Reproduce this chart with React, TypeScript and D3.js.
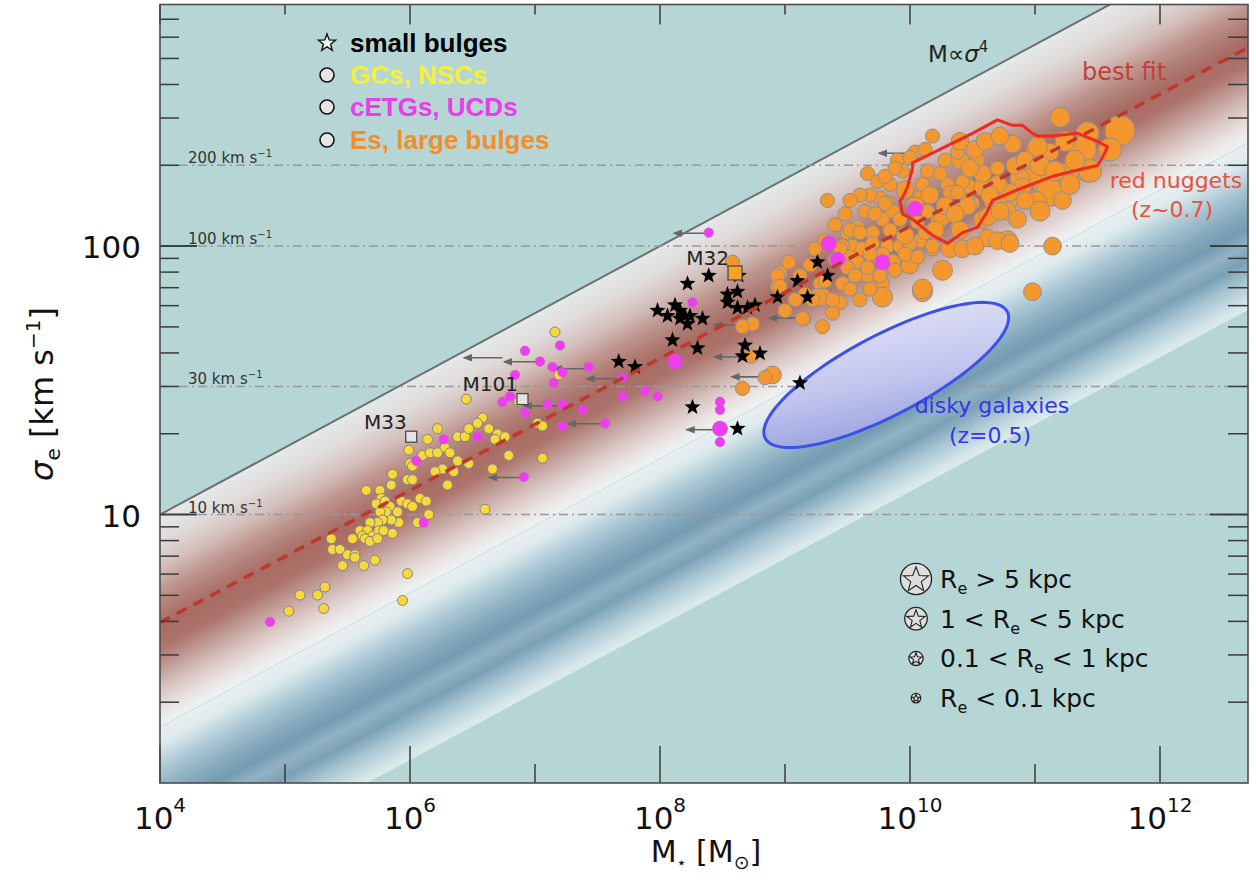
import React from 'react';
import * as d3 from 'd3';

// every point: [log10 M*/Msun, log10 sigma_e/(km/s)] (+ Re in kpc where the marker size shows it)
const gcsNscs = [
  [7.16, 1.68], [7.19, 1.52], [6.45, 1.43], [6.58, 1.36], [6.22, 1.32], [6.14, 1.28], [5.99, 1.24], [6.00, 1.19], [6.02, 1.18], [6.10, 1.22],
  [6.16, 1.23], [6.22, 1.23], [6.28, 1.25], [6.32, 1.23], [6.38, 1.29], [6.44, 1.29], [6.47, 1.32], [6.54, 1.34], [6.63, 1.32], [6.70, 1.30],
  [6.76, 1.29], [6.68, 1.28], [6.79, 1.22], [6.38, 1.20], [6.47, 1.19], [6.35, 1.16], [6.26, 1.17], [6.20, 1.16], [6.30, 1.11], [6.66, 1.17],
  [7.06, 1.21], [7.02, 1.34], [7.06, 1.33], [6.87, 1.42], [5.86, 1.15], [5.85, 1.11], [5.98, 1.13], [6.02, 1.13], [5.65, 1.09], [5.76, 1.09],
  [5.77, 1.06], [5.73, 1.04], [5.80, 1.05], [5.84, 1.03], [5.81, 1.01], [5.76, 1.01], [5.90, 1.01], [5.93, 1.05], [5.98, 1.04], [6.02, 1.03],
  [6.08, 1.06], [6.13, 1.05], [6.15, 1.00], [6.06, 0.97], [5.91, 0.97], [5.85, 0.98], [5.78, 0.98], [5.74, 0.97], [5.68, 0.97], [5.60, 0.94],
  [5.66, 0.94], [5.62, 0.92], [5.70, 0.92], [5.75, 0.94], [5.79, 0.94], [5.86, 0.93], [5.54, 0.91], [5.64, 0.91], [5.68, 0.90], [5.74, 0.91],
  [5.37, 0.91], [5.38, 0.87], [5.44, 0.87], [5.50, 0.85], [5.56, 0.85], [5.56, 0.84], [5.46, 0.81], [5.63, 0.81], [5.72, 0.83], [5.98, 0.78],
  [6.60, 1.02], [5.32, 0.73], [5.26, 0.70], [5.12, 0.70], [5.03, 0.64], [5.31, 0.65], [5.94, 0.68],
];

const cetgsUcds = [
  [7.20, 1.63, 0.03], [6.92, 1.61, 0.03], [7.04, 1.57, 0.03], [7.14, 1.55, 0.03], [7.22, 1.53, 0.03], [7.15, 1.49, 0.03], [6.84, 1.52, 0.03],
  [6.80, 1.44, 0.03], [6.74, 1.42, 0.03], [6.92, 1.38, 0.03], [7.10, 1.41, 0.03], [7.22, 1.41, 0.03], [7.22, 1.33, 0.03], [6.54, 1.29, 0.03],
  [6.27, 1.28, 0.03], [6.05, 1.20, 0.03], [6.91, 1.14, 0.03], [6.11, 0.97, 0.03], [4.88, 0.60, 0.03], [8.39, 2.05, 0.03], [8.26, 1.79, 0.03],
  [8.12, 1.57, 0.7], [7.43, 1.55, 0.03], [7.70, 1.51, 0.03], [7.70, 1.44, 0.03], [7.88, 1.46, 0.03], [7.98, 1.44, 0.03], [7.38, 1.39, 0.03],
  [7.56, 1.34, 0.03], [8.48, 1.42, 0.03], [8.48, 1.39, 0.03], [8.48, 1.32, 0.7], [8.48, 1.27, 0.03], [9.35, 2.01, 0.7], [9.42, 1.95, 0.7],
  [9.78, 1.94, 0.7], [10.04, 2.14, 0.7],
];

const smallBulges = [
  [8.39, 1.89], [8.63, 1.89], [8.22, 1.86], [8.54, 1.82], [8.62, 1.83], [8.54, 1.79], [8.62, 1.77], [8.70, 1.77], [8.76, 1.78], [7.98, 1.76],
  [8.06, 1.74], [8.12, 1.78], [8.16, 1.76], [8.20, 1.74], [8.24, 1.74], [8.22, 1.71], [8.34, 1.73], [8.10, 1.65], [8.30, 1.62], [8.68, 1.63],
  [8.80, 1.60], [8.66, 1.59], [7.67, 1.57], [7.80, 1.55], [8.26, 1.40], [8.62, 1.32], [8.94, 1.81], [9.10, 1.87], [9.12, 1.49], [9.26, 1.94],
  [9.34, 1.89], [9.18, 1.81], [8.16, 1.73],
];

const esLargeBulges = [
  [10.18, 2.41, 0.5], [10.04, 2.35, 0.5], [9.90, 2.32, 0.5], [9.94, 2.28, 0.5], [9.66, 2.27, 0.5], [9.74, 2.24, 0.5], [9.34, 2.17, 0.5],
  [9.76, 2.18, 0.5], [9.82, 2.16, 0.5], [9.64, 2.13, 0.5], [9.86, 2.13, 0.5], [9.78, 2.10, 0.5], [9.92, 2.10, 0.5], [9.58, 2.07, 0.5],
  [9.50, 2.05, 0.5], [9.70, 2.05, 0.5], [9.54, 2.00, 0.5], [9.62, 1.99, 0.5], [9.70, 2.01, 0.5], [9.82, 2.00, 0.5], [9.92, 2.00, 0.5],
  [9.46, 2.00, 0.5], [9.52, 1.96, 0.5], [9.58, 1.94, 0.5], [9.66, 1.89, 0.5], [9.86, 1.94, 1], [9.76, 1.95, 0.5], [9.03, 1.94, 0.5],
  [8.96, 1.90, 0.5], [8.94, 1.85, 0.5], [9.28, 1.86, 0.5], [9.46, 1.86, 0.5], [9.44, 1.79, 0.5], [9.30, 1.81, 1.5], [9.38, 1.75, 0.5],
  [9.15, 1.73, 0.5], [9.30, 1.70, 0.5], [9.78, 1.86, 0.5], [9.78, 1.81, 2.5], [10.10, 1.83, 2.5], [10.26, 1.91, 2.5], [9.98, 2.03, 0.5],
  [10.08, 2.02, 0.5], [10.18, 1.99, 0.5], [10.32, 1.99, 1.5], [10.42, 1.99, 1.5], [10.08, 2.18, 0.5], [10.14, 2.13, 0.5], [10.24, 2.10, 1.5],
  [10.38, 2.13, 1.5], [10.46, 2.22, 1.5], [10.30, 2.23, 0.5], [10.24, 2.27, 0.5], [10.40, 2.32, 1.5], [10.56, 2.28, 0.5], [10.50, 2.16, 0.5],
  [10.58, 2.10, 1.5], [10.62, 2.03, 1.5], [10.14, 2.28, 0.5], [10.10, 2.23, 0.5], [10.38, 2.35, 0.5], [10.54, 2.32, 0.5], [10.70, 2.29, 0.5],
  [10.82, 2.38, 1.5], [10.98, 2.35, 0.5], [11.12, 2.35, 1.5], [11.20, 2.48, 2.5], [11.42, 2.42, 5], [11.68, 2.43, 10], [11.38, 2.36, 8],
  [11.42, 2.28, 4], [11.26, 2.27, 4], [11.10, 2.22, 8], [10.98, 2.27, 2.5], [10.88, 2.25, 2.5], [10.78, 2.17, 2.5], [10.72, 2.22, 1.5],
  [10.58, 2.22, 1.5], [10.42, 2.24, 0.5], [10.46, 2.17, 0.5], [10.32, 2.20, 0.5], [10.26, 2.11, 1.5], [10.38, 2.07, 0.5], [10.78, 2.02, 2.5],
  [11.14, 2.00, 1.5], [10.98, 1.83, 1.5], [10.10, 1.84, 2.5], [10.00, 2.33, 0.5], [9.88, 2.29, 0.5], [9.80, 2.16, 0.5], [9.52, 2.06, 0.5],
  [9.60, 2.05, 0.5], [9.78, 1.97, 0.5], [10.00, 2.01, 0.5], [10.12, 2.05, 0.5], [10.18, 2.00, 0.5], [9.44, 1.99, 0.5], [9.50, 1.92, 0.5],
  [9.66, 1.92, 0.5], [9.76, 1.89, 0.5], [9.46, 1.86, 0.5], [9.38, 1.80, 0.5], [11.60, 2.36, 5], [11.44, 2.28, 5], [11.12, 2.20, 8],
  [11.22, 2.17, 1.5], [11.02, 2.17, 1.5], [10.90, 2.22, 1.5], [10.80, 2.20, 1.5], [10.66, 2.17, 1.5], [10.70, 2.23, 1.5], [10.58, 2.27, 1.5],
  [10.48, 2.29, 1.5], [10.38, 2.20, 0.5], [10.46, 2.15, 1.5], [10.62, 2.11, 1.5], [10.78, 2.13, 1.5], [10.86, 2.10, 1.5], [10.70, 2.02, 1.5],
  [10.80, 2.01, 1.5], [11.02, 2.37, 2.5], [11.24, 2.39, 2.5], [8.94, 1.89, 0.5], [8.96, 1.85, 0.5], [9.14, 1.73, 0.5], [8.74, 1.71, 0.5],
  [8.66, 1.70, 0.5], [9.26, 1.81, 1.5], [8.73, 1.59, 0.5], [8.90, 1.52, 1.5], [8.84, 1.51, 0.5], [8.66, 1.47, 0.5], [8.58, 1.94, 0.5],
  [9.84, 2.23, 0.5], [9.96, 2.21, 1.5], [10.04, 2.15, 1.5], [10.16, 2.19, 1.5], [10.28, 2.15, 1.5], [10.36, 2.12, 1.5], [10.20, 2.06, 1.5],
  [10.06, 2.09, 0.5], [9.96, 2.04, 1.5], [9.84, 2.06, 0.5], [9.72, 2.12, 0.5], [9.68, 2.19, 0.5], [9.80, 2.26, 0.5], [10.40, 2.06, 1.5],
  [10.52, 2.00, 1.5], [10.64, 2.19, 1.5], [10.72, 2.13, 1.5], [10.84, 2.30, 1.5], [10.92, 2.32, 1.5], [11.04, 2.30, 2.5], [11.16, 2.28, 2.5],
  [11.32, 2.32, 2.5], [11.28, 2.23, 2.5], [11.04, 2.13, 2.5], [10.92, 2.17, 1.5], [10.40, 2.39, 1.5], [10.52, 2.36, 1.5], [10.60, 2.39, 1.5],
  [10.72, 2.41, 1.5], [10.28, 2.32, 0.5], [10.12, 2.36, 0.5], [9.60, 2.19, 0.5], [9.52, 2.17, 0.5], [9.48, 2.12, 0.5], [9.40, 2.08, 0.5],
  [9.32, 2.02, 0.5], [9.24, 1.99, 0.5], [9.20, 1.93, 0.5], [9.12, 1.89, 0.5], [9.16, 1.82, 0.5], [9.08, 1.80, 0.5], [9.00, 1.76, 0.5],
  [9.22, 1.80, 0.5], [9.52, 1.84, 0.5], [9.60, 1.80, 0.5], [9.68, 1.84, 0.5], [9.32, 1.87, 0.5], [9.68, 1.97, 0.5], [9.40, 1.95, 0.5],
  [9.88, 1.91, 0.5], [10.00, 1.93, 1.5], [10.06, 1.96, 0.5], [9.96, 1.97, 0.5], [9.56, 1.89, 0.5],
];

// upper limits on mass: [log M from, log M to, log sigma]
const massUpperLimits = [
  [8.39, 8.10, 2.048], [6.74, 6.42, 1.584], [7.02, 6.74, 1.569], [7.43, 7.14, 1.543], [7.18, 6.90, 1.405], [7.56, 7.25, 1.338],
  [6.90, 6.62, 1.138], [7.70, 7.40, 1.506], [8.46, 8.20, 1.316], [8.72, 8.42, 1.706], [8.70, 8.42, 1.587], [8.86, 8.56, 1.513],
  [9.12, 8.86, 1.732], [10.00, 9.74, 2.346],
];

const namedObjects = [
  { name: 'M33', logM: 6.01, logS: 1.29, kind: 'plain' },
  { name: 'M101', logM: 6.90, logS: 1.43, kind: 'plain' },
  { name: 'M32', logM: 8.60, logS: 1.90, kind: 'compact' },
];

// red nuggets (z~0.7) contour
const redNuggets = [
  [10.02, 2.31], [10.50, 2.42], [10.70, 2.47], [10.82, 2.45], [10.90, 2.45], [10.98, 2.42], [11.02, 2.41], [11.14, 2.41],
  [11.34, 2.42], [11.50, 2.39], [11.58, 2.37], [11.54, 2.33], [11.50, 2.30], [11.40, 2.29], [11.14, 2.26], [10.86, 2.21],
  [10.66, 2.17], [10.62, 2.13], [10.54, 2.07], [10.42, 2.05], [10.30, 2.01], [10.18, 2.04], [10.02, 2.10], [9.94, 2.12],
  [9.92, 2.17], [9.94, 2.18], [9.98, 2.22], [10.02, 2.29],
];

// disky galaxies (z=0.5): centre and semi-axes in dex
const diskyCentre = [9.81, 1.52];
const diskyMajor = [0.968, 0.236];
const diskyMinor = [0.149, -0.132];

const sigmaLevels = [10, 30, 100, 200];
const virialSlope = 0.25; // M ∝ sigma^4
const virialIntercept = 1.0; // log sigma at M = 1e4
const bestFitIntercept = 0.598;
const bestFitSlope = 0.246;
const scatterUpper = 1.0;
const scatterInner = 0.208;
const scatterLower = -0.414;

const reLegend = [
  { re: 11, pre: '', post: ' > 5 kpc' },
  { re: 4.5, pre: '1 < ', post: ' < 5 kpc' },
  { re: 0.5, pre: '0.1 < ', post: ' < 1 kpc' },
  { re: 0.03, pre: '', post: ' < 0.1 kpc' },
];

const xTickExps = [4, 5, 6, 7, 8, 9, 10, 11, 12];
const xLabelExps = [4, 6, 8, 10, 12];
const yLabelValues = [10, 100];

// gradient of the scatter band, keyed by offset from the M ∝ sigma^4 line
const bandStops = [
  [1.0, '#e4eaea'], [0.9, '#e0dbda'], [0.8, '#d3beba'], [0.72, '#c09891'], [0.65, '#b07f77'], [0.58, '#a86b62'],
  [0.5, '#ad756d'], [0.42, '#c29f99'], [0.34, '#dac7c3'], [0.27, '#e9e3e2'], [0.22, '#eef1f1'], [0.14, '#dbe9ec'],
  [0.05, '#abc7d4'], [-0.04, '#87abbe'], [-0.11, '#749bb1'], [-0.17, '#91b2c4'], [-0.23, '#7ba1b6'], [-0.31, '#acc8d4'],
  [-0.39, '#d6e7ea'], [-0.414, '#dcebeb'],
];

const FONT = '"DejaVu Sans", Verdana, sans-serif';
const BOLD = '"Liberation Sans", Arial, sans-serif';

function starPath(R: number) {
  const pts = d3.range(10).map(i => {
    const r = i % 2 ? R * 0.42 : R;
    const a = -Math.PI / 2 + (i * Math.PI) / 5;
    return [r * Math.cos(a), r * Math.sin(a)];
  });
  return 'M' + pts.map(p => p[0].toFixed(2) + ',' + p[1].toFixed(2)).join('L') + 'Z';
}

export default function App() {
  const W = 1256, H = 882;
  const L = 160, R = 1248, T = 4.5, B = 783;

  const x = d3.scaleLog().domain([1e4, 10 ** 12.704]).range([L, R]);
  const y = d3.scaleLog().domain([1, 10 ** 2.9]).range([B, T]);
  const px = (lm: number) => x(10 ** lm);
  const py = (ls: number) => y(10 ** ls);
  const rScale = d3.scaleLog().domain([0.01, 0.1, 1, 5, 12]).range([4.5, 5, 8, 11.5, 16]).clamp(true);

  const relLog = (d: number, lm: number) => d + virialSlope * (lm - 4);
  const edge = (d: number) => d3.range(2, 15.01, 1).map(lm => [px(lm), py(relLog(d, lm))]);
  const bandPoly = [...edge(scatterUpper), ...edge(scatterLower).reverse()];

  // gradient vector perpendicular to the band
  const p1 = [px(8), py(relLog(scatterUpper, 8))];
  const p1b = [px(9), py(relLog(scatterUpper, 9))];
  const n = [-(p1b[1] - p1[1]), p1b[0] - p1[0]];
  const dAt = (X: number, Y: number) => Math.log10(y.invert(Y)) - virialSlope * (Math.log10(x.invert(X)) - 4);
  const dd = dAt(p1[0] + n[0], p1[1] + n[1]) - dAt(p1[0], p1[1]);
  const t = (scatterLower - scatterUpper) / dd;
  const p2 = [p1[0] + t * n[0], p1[1] + t * n[1]];
  const span = scatterUpper - scatterLower;

  const line = d3.line();
  const closed = d3.line().curve(d3.curveLinearClosed);

  const lineAcross = (icpt: number, slope: number) =>
    line([[px(3), py(icpt + slope * (3 - 4))], [px(14), py(icpt + slope * (14 - 4))]]) as string;

  const ellipse = d3.range(0, 360, 3).map(deg => {
    const a = (deg * Math.PI) / 180;
    const lm = diskyCentre[0] + diskyMajor[0] * Math.cos(a) + diskyMinor[0] * Math.sin(a);
    const ls = diskyCentre[1] + diskyMajor[1] * Math.cos(a) + diskyMinor[1] * Math.sin(a);
    return [px(lm), py(ls)];
  });

  const yMinor: number[] = [];
  [1, 10, 100].forEach(dec => d3.range(1, 10).forEach(k => {
    const v = dec * k;
    if (v > 1 && v < 10 ** 2.9) yMinor.push(v);
  }));

  const tickStroke = '#3a3a3a';

  return (
    <svg width={W} height={H} style={{ position: 'absolute', left: 0, top: 0, background: '#fff' }} fontFamily={FONT}>
      <defs>
        <clipPath id="plotClip"><rect x={L} y={T} width={R - L} height={B - T} /></clipPath>
        <linearGradient id="bandGrad" gradientUnits="userSpaceOnUse" x1={p1[0]} y1={p1[1]} x2={p2[0]} y2={p2[1]}>
          {bandStops.map(([d, c], i) => (
            <stop key={i} offset={((scatterUpper - (d as number)) / span).toFixed(4)} stopColor={c as string} />
          ))}
        </linearGradient>
        <linearGradient id="diskGrad" x1="0.25" y1="0" x2="0.6" y2="1">
          <stop offset="0" stopColor="#e6e6f7" />
          <stop offset="0.55" stopColor="#c2c6ee" />
          <stop offset="1" stopColor="#8e99db" />
        </linearGradient>
        <marker id="arrowHead" viewBox="0 0 10 10" refX="8" refY="5" markerWidth="6" markerHeight="6" orient="auto">
          <path d="M0,1 L10,5 L0,9 z" fill="#666" />
        </marker>
      </defs>

      <g clipPath="url(#plotClip)">
        <rect x={L} y={T} width={R - L} height={B - T} fill="#b6d6d6" />
        <path d={closed(bandPoly as [number, number][]) as string} fill="url(#bandGrad)" />
        <path d={lineAcross(scatterInner, virialSlope)} stroke="#c6dde2" strokeWidth={1} fill="none" />
        <path d={lineAcross(virialIntercept, virialSlope)} stroke="#6f6f6f" strokeWidth={2} fill="none" />

        {sigmaLevels.map(s => (
          <line key={s} x1={L} x2={R} y1={y(s)} y2={y(s)} stroke="#999" strokeWidth={1.5} strokeDasharray="9,4,2,4" />
        ))}

        <path d={closed(ellipse as [number, number][]) as string} fill="url(#diskGrad)" stroke="#3d50e8" strokeWidth={3} />

        {massUpperLimits.map((a, i) => (
          <line key={i} x1={px(a[0])} x2={px(a[1]) + 2} y1={py(a[2])} y2={py(a[2])} stroke="#666" strokeWidth={1.6} markerEnd="url(#arrowHead)" />
        ))}

        {esLargeBulges.map((d, i) => (
          <circle key={i} cx={px(d[0])} cy={py(d[1])} r={rScale(d[2])} fill="#f5972f" stroke="#8f8f8f" strokeWidth={1} />
        ))}
        {gcsNscs.map((d, i) => (
          <circle key={i} cx={px(d[0])} cy={py(d[1])} r={5} fill="#f8d83a" stroke="#858585" strokeWidth={1} />
        ))}
        {smallBulges.map((d, i) => (
          <path key={i} transform={`translate(${px(d[0])},${py(d[1])})`} d={starPath(8.5)} fill="#000" />
        ))}
        {cetgsUcds.map((d, i) => (
          <circle key={i} cx={px(d[0])} cy={py(d[1])} r={rScale(d[2])} fill="#f03cf0" stroke="#c65cc6" strokeWidth={0.6} />
        ))}

        {namedObjects.map(o => {
          const s = o.kind === 'compact' ? 14 : 11;
          return (
            <g key={o.name}>
              <rect x={px(o.logM) - s / 2} y={py(o.logS) - s / 2} width={s} height={s}
                fill={o.kind === 'compact' ? '#f4a326' : '#e4e4e4'} stroke="#4a4a4a" strokeWidth={1.3} />
              <text x={px(o.logM) - s / 2 + 1} y={py(o.logS) - 8} textAnchor="end" fontSize={20} fill="#222">{o.name}</text>
            </g>
          );
        })}

        <path d={closed(redNuggets.map(d => [px(d[0]), py(d[1])]) as [number, number][]) as string}
          fill="none" stroke="#ee2b1c" strokeWidth={3} strokeLinejoin="round" />

        <path d={line([[px(4), py(bestFitIntercept)], [px(12.704), py(bestFitIntercept + bestFitSlope * 8.704)]]) as string}
          stroke="#c0362d" strokeWidth={3.5} strokeDasharray="11,8" fill="none" />
      </g>

      {sigmaLevels.map(s => (
        <text key={s} x={188} y={y(s) - 2} fontSize={15} fill="#333">
          {s} km s<tspan dy={-6} fontSize={10}>−1</tspan>
        </text>
      ))}

      {/* ticks */}
      {xTickExps.map(e => {
        const major = e % 2 === 0;
        const X = px(e);
        return (
          <g key={e} stroke={tickStroke} strokeWidth={1.5}>
            <line x1={X} x2={X} y1={B} y2={B - (major ? 37 : 19)} />
            <line x1={X} x2={X} y1={T} y2={T + (major ? 20 : 10)} />
          </g>
        );
      })}
      {[...yMinor, 10, 100].map(v => {
        const major = v === 10 || v === 100;
        const Y = y(v);
        return (
          <g key={v} stroke={tickStroke} strokeWidth={1.5}>
            <line x1={L} x2={L + (major ? 37 : 19)} y1={Y} y2={Y} />
            <line x1={R} x2={R - (major ? 38 : 20)} y1={Y} y2={Y} />
          </g>
        );
      })}
      <rect x={L} y={T} width={R - L} height={B - T} fill="none" stroke="#4d4d4d" strokeWidth={1.6} />

      {xLabelExps.map(e => (
        <text key={e} x={px(e)} y={829} textAnchor="middle" fontSize={31} fill="#111">
          10<tspan dy={-17} fontSize={20}>{e}</tspan>
        </text>
      ))}
      {yLabelValues.map(v => (
        <text key={v} x={141} y={y(v) + 12} textAnchor="end" fontSize={31} fill="#111">{v}</text>
      ))}

      <text x={706} y={862} textAnchor="middle" fontSize={30} fill="#111">
        M<tspan dy={6} fontSize={16}>⋆</tspan><tspan dy={-6}> [M</tspan><tspan dy={7} fontSize={19}>⊙</tspan><tspan dy={-7}>]</tspan>
      </text>
      <text transform="translate(53,394) rotate(-90)" textAnchor="middle" fontSize={32} fill="#111">
        <tspan fontStyle="italic">σ</tspan><tspan dy={7} fontSize={20}>e</tspan><tspan dy={-7}> [km s</tspan>
        <tspan dy={-13} fontSize={20}>−1</tspan><tspan dy={13}>]</tspan>
      </text>

      {/* annotations */}
      <text x={928} y={62} fontSize={23} fill="#222">M∝<tspan fontStyle="italic">σ</tspan><tspan dy={-10} fontSize={15}>4</tspan></text>
      <text x={1082} y={80} fontSize={24} fill="#c2403a">best fit</text>
      <text x={1176} y={188} textAnchor="middle" fontSize={22} fill="#e8503f">red nuggets</text>
      <text x={1172} y={217} textAnchor="middle" fontSize={22} fill="#e8503f">(z~0.7)</text>
      <text x={992} y={413} textAnchor="middle" fontSize={22} fill="#3535ea">disky galaxies</text>
      <text x={990} y={443} textAnchor="middle" fontSize={22} fill="#3535ea">(z=0.5)</text>

      {/* type legend */}
      <g fontFamily={BOLD} fontWeight="bold" fontSize={26}>
        <path transform="translate(327,43)" d={starPath(9)} fill="#f3f3f3" stroke="#111" strokeWidth={1.4} />
        <text x={350} y={52} fill="#000">small bulges</text>
        <circle cx={327} cy={75} r={7} fill="#e6e6e6" stroke="#111" strokeWidth={1.6} />
        <text x={350} y={84} fill="#f6f03a">GCs, NSCs</text>
        <circle cx={327} cy={107} r={7} fill="#e6e6e6" stroke="#111" strokeWidth={1.6} />
        <text x={350} y={116} fill="#e83de8">cETGs, UCDs</text>
        <circle cx={327} cy={140} r={7} fill="#e6e6e6" stroke="#111" strokeWidth={1.6} />
        <text x={350} y={149} fill="#ef8f2c">Es, large bulges</text>
      </g>

      {/* size legend */}
      {reLegend.map((item, i) => {
        const cy = 579 + i * 39.7;
        const r = rScale(item.re);
        return (
          <g key={i}>
            <circle cx={916} cy={cy} r={r} fill="#dedede" stroke="#222" strokeWidth={1.3} />
            <path transform={`translate(916,${cy + r * 0.06})`} d={starPath(r * 0.85)} fill="#dedede" stroke="#222" strokeWidth={1.1} />
            <text x={940} y={cy + 9} fontSize={25} fill="#111">
              {item.pre}R<tspan dy={6} fontSize={16}>e</tspan><tspan dy={-6}>{item.post}</tspan>
            </text>
          </g>
        );
      })}
    </svg>
  );
}
